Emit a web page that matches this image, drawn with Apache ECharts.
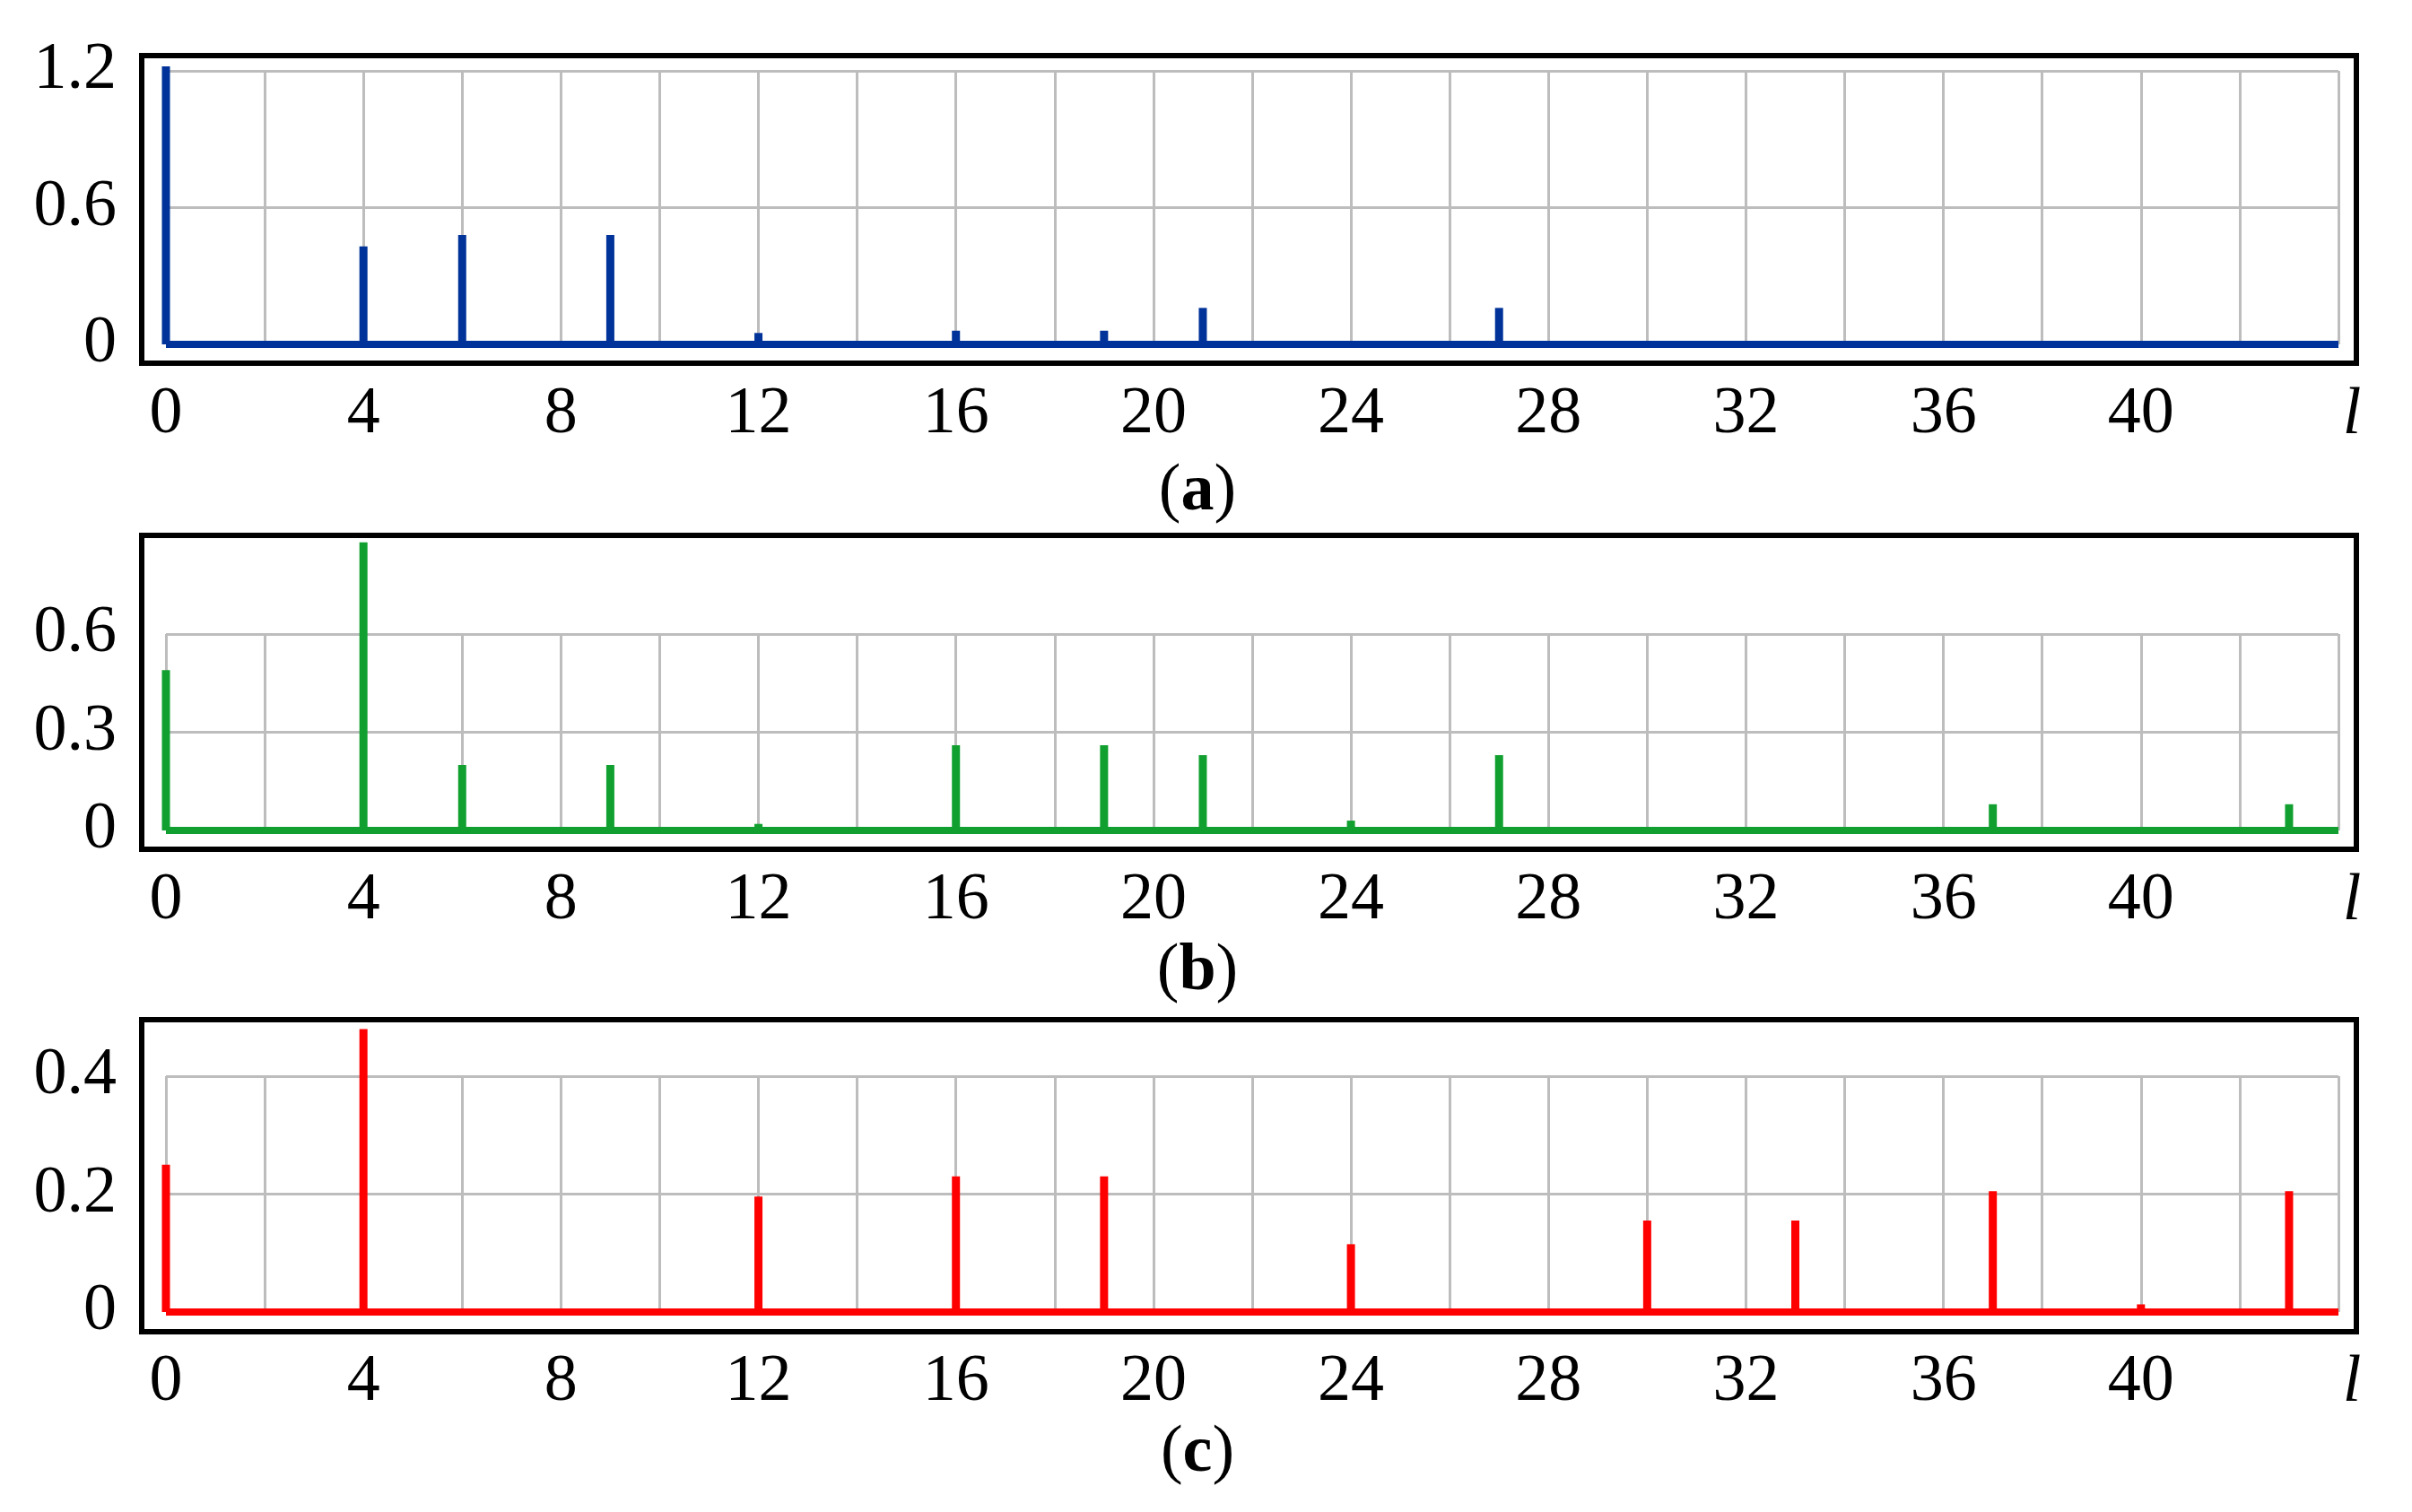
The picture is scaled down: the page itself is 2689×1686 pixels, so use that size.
<!DOCTYPE html>
<html>
<head>
<meta charset="utf-8">
<script src="https://cdn.jsdelivr.net/npm/echarts@6/dist/echarts.min.js"></script>
<style>html,body{margin:0;padding:0;background:#fff}#chart{width:2689px;height:1686px}</style>
</head>
<body>
<div id="chart"></div>
<script>
var xTicks = [0, 4, 8, 12, 16, 20, 24, 28, 32, 36, 40];
var aData = [[0, 1.22], [4, 0.43], [6, 0.48], [9, 0.48], [12, 0.05], [16, 0.06], [19, 0.06], [21, 0.16], [27, 0.16]];
var bData = [[0, 0.49], [4, 0.88], [6, 0.2], [9, 0.2], [12, 0.02], [16, 0.26], [19, 0.26], [21, 0.23], [24, 0.03], [27, 0.23], [37, 0.08], [43, 0.08]];
var cData = [[0, 0.25], [4, 0.48], [12, 0.196], [16, 0.23], [19, 0.23], [24, 0.115], [30, 0.155], [33, 0.155], [37, 0.205], [40, 0.013], [43, 0.205]];
var baseline = [[0, 0], [44, 0]];
var yTicksA = [0, 0.6, 1.2];
var yTicksB = [0, 0.3, 0.6];
var yTicksC = [0, 0.2, 0.4];

var font = 'Liberation Serif';
var panels = [
    { data: aData, color: '#003399', ticks: yTicksA, y0: 384, yMax: 79, max: 1.2, interval: 0.6, bt: 62, bb: 405, label: 'a', ly: 549 },
    { data: bData, color: '#11a030', ticks: yTicksB, y0: 926, yMax: 707, max: 0.6, interval: 0.3, bt: 597, bb: 947, label: 'b', ly: 1084 },
    { data: cData, color: '#ff0000', ticks: yTicksC, y0: 1463, yMax: 1200, max: 0.4, interval: 0.2, bt: 1137, bb: 1485, label: 'c', ly: 1621 }
];
var gridL = 185, gridR = 82;
var boxL = 158, boxR = 2627;

var grids = [], xAxes = [], yAxes = [], series = [], graphics = [];
panels.forEach(function (p, i) {
    grids.push({ left: gridL, right: gridR, top: p.yMax, height: p.y0 - p.yMax });
    xAxes.push({
        type: 'value', gridIndex: i, min: 0, max: 44, interval: 2,
        axisLine: { show: false }, axisTick: { show: false },
        splitLine: { show: true, lineStyle: { color: '#bdbdbd', width: 3 } },
        axisLabel: {
            margin: 42, fontFamily: font, fontSize: 74, color: '#000',
            formatter: function (v) { return xTicks.indexOf(v) >= 0 ? String(v) : ''; }
        }
    });
    yAxes.push({
        type: 'value', gridIndex: i, min: 0, max: p.max, interval: p.interval,
        axisLine: { show: false }, axisTick: { show: false },
        splitLine: { show: true, lineStyle: { color: '#bdbdbd', width: 3 } },
        axisLabel: {
            margin: 55, fontFamily: font, fontSize: 74, color: '#000',
            formatter: function (v) {
                var t = p.ticks.filter(function (k) { return Math.abs(k - v) < 1e-9; });
                return t.length ? String(t[0]) : '';
            }
        }
    });
    series.push({
        type: 'bar', xAxisIndex: i, yAxisIndex: i, data: p.data, barWidth: 9,
        clip: false, itemStyle: { color: p.color }, silent: true
    });
    series.push({
        type: 'line', xAxisIndex: i, yAxisIndex: i, data: baseline, symbol: 'none',
        lineStyle: { color: p.color, width: 8 }, silent: true
    });
    graphics.push({
        type: 'rect', shape: { x: boxL, y: p.bt, width: boxR - boxL, height: p.bb - p.bt },
        style: { fill: null, stroke: '#000', lineWidth: 6 }, z: 100
    });
    graphics.push({
        type: 'text', x: 2622, y: p.y0 + 80,
        style: { text: 'l', font: 'italic 74px "Liberation Serif"', fill: '#000', textAlign: 'center', textVerticalAlign: 'middle' }
    });
    graphics.push({
        type: 'text', x: 1335, y: p.ly,
        style: {
            text: '({b|' + p.label + '})', font: '74px "Liberation Serif"', fill: '#000',
            textAlign: 'center', textVerticalAlign: 'middle',
            rich: { b: { fontWeight: 'bold', fontSize: 74, fontFamily: font } }
        }
    });
});

var chart = echarts.init(document.getElementById('chart'));
chart.setOption({
    animation: false,
    backgroundColor: '#fff',
    grid: grids,
    xAxis: xAxes,
    yAxis: yAxes,
    series: series,
    graphic: graphics
});
</script>
</body>
</html>
